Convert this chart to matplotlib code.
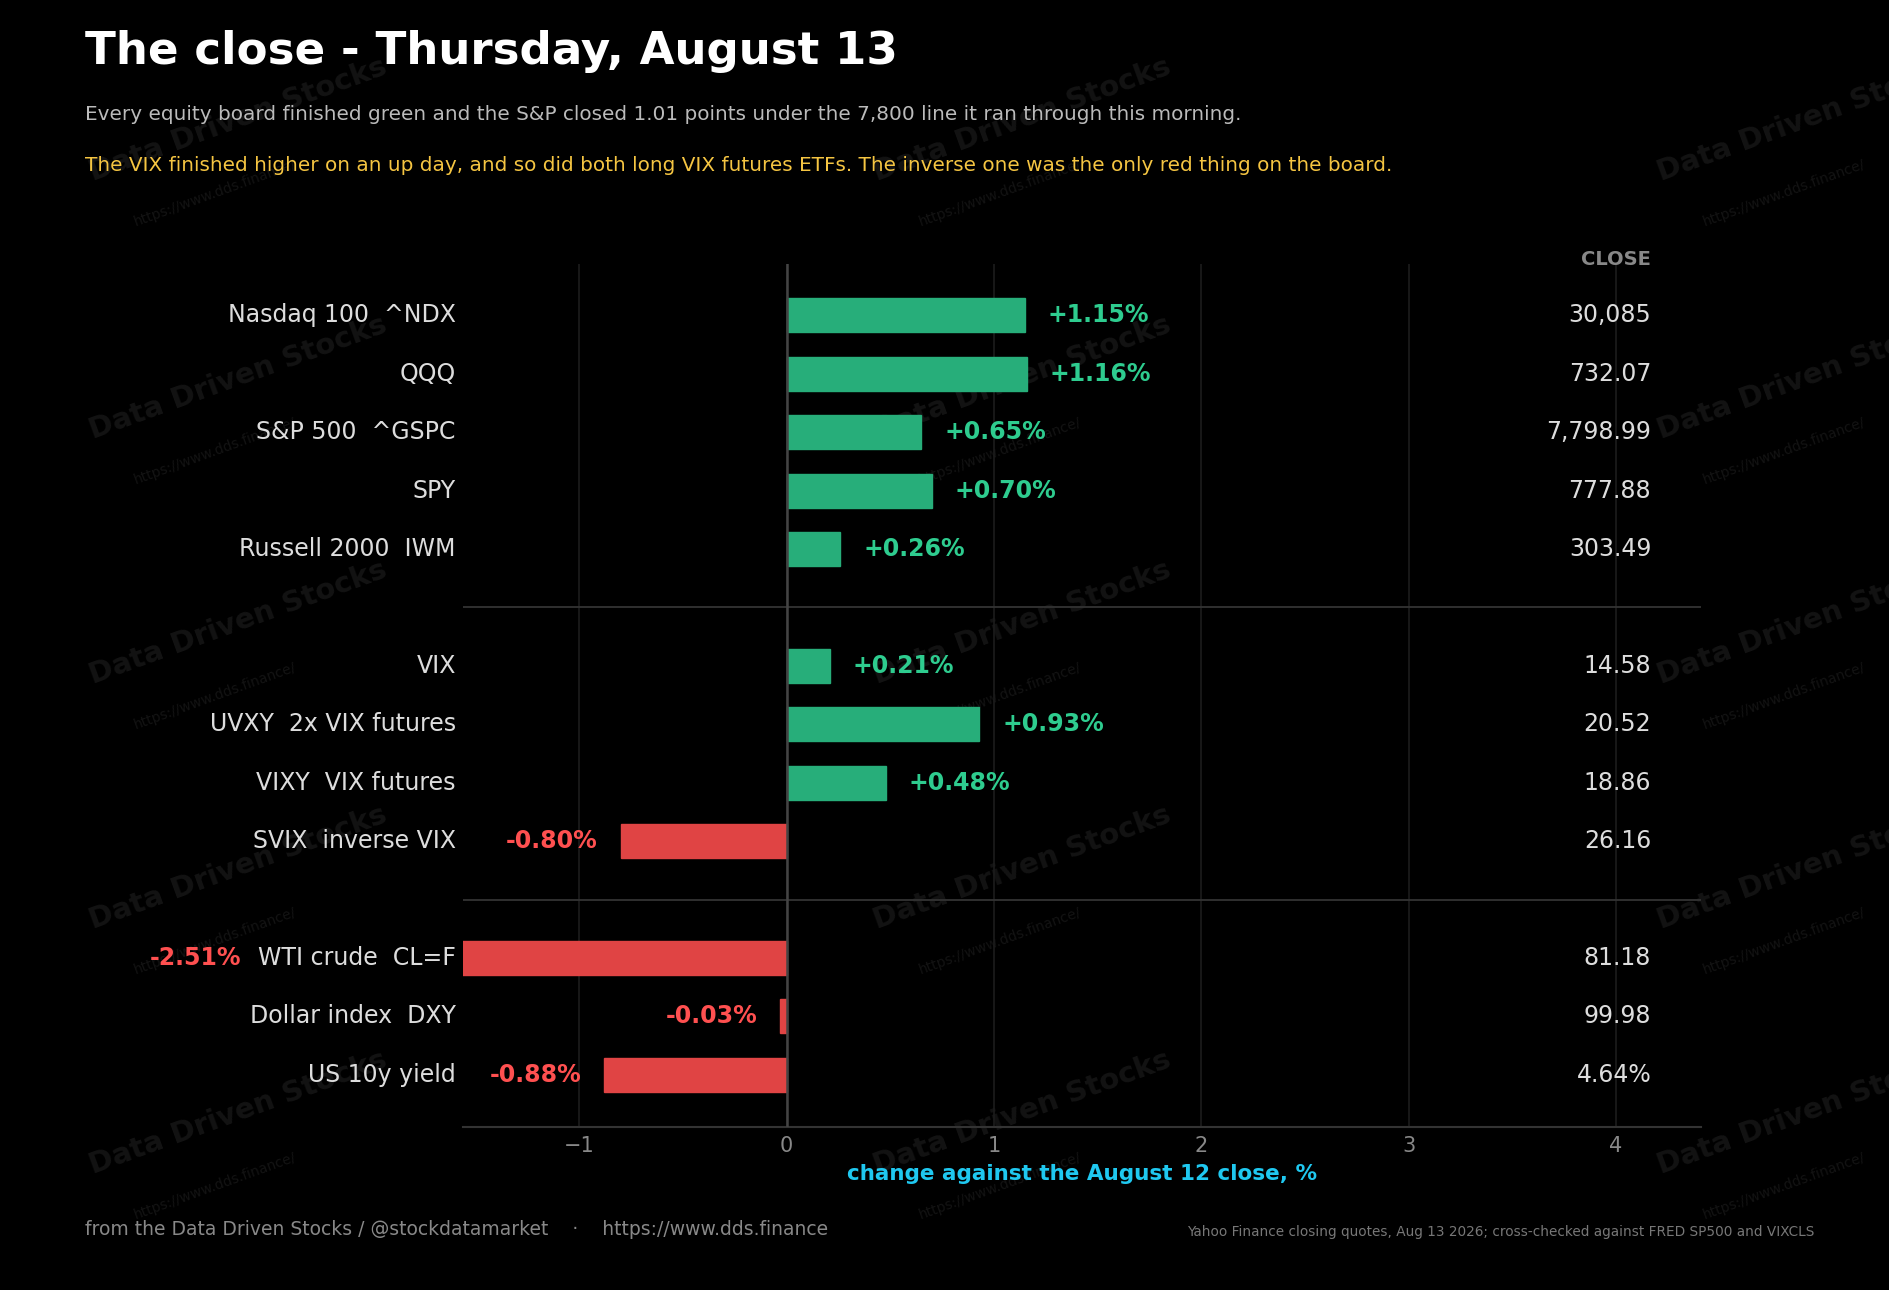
"""
The close - one-day board of equity, VIX and macro moves, drawn as a bar chart.
"""

import matplotlib
matplotlib.use("Agg")
import matplotlib.pyplot as plt

# ── Board data ────────────────────────────────────────────────────────────────
LABELS = ["Nasdaq 100  ^NDX", "QQQ", "S&P 500  ^GSPC", "SPY", "Russell 2000  IWM",
          "VIX", "UVXY  2x VIX futures", "VIXY  VIX futures", "SVIX  inverse VIX",
          "WTI crude  CL=F", "Dollar index  DXY", "US 10y yield"]
CHANGES = [1.15, 1.16, 0.65, 0.70, 0.26, 0.21, 0.93, 0.48, -0.80, -2.51, -0.03, -0.88]
CLOSES = ["30,085", "732.07", "7,798.99", "777.88", "303.49",
          "14.58", "20.52", "18.86", "26.16", "81.18", "99.98", "4.64%"]
ROWS = [0, 1, 2, 3, 4, 6, 7, 8, 9, 11, 12, 13]   # gaps mark the three groups
SEPARATORS = [5, 10]

# ── Chart ─────────────────────────────────────────────────────────────────────
C = dict(
    bg="#000000", pos="#27AE7A", pos_txt="#2ECC8F", neg="#E04444", neg_txt="#FF5050",
    text="#DDDDDD", muted="#888888", grid="#1C1C1C", zero="#444444",
    sep="#333333", axis="#1FC8F0", note="#F5C542", mark="#131313",
)
XMIN, XMAX = -1.56, 4.41

fig = plt.figure(figsize=(18.9, 12.9), dpi=100, facecolor=C["bg"])
ax = fig.add_axes([0.245, 0.126, 0.655, 0.669], facecolor="none", zorder=2)

# Watermark tiles (behind the axes)
for wx in [0.045, 0.46, 0.875]:
    for wy in [0.86, 0.66, 0.47, 0.28, 0.09]:
        fig.text(wx, wy, "Data Driven Stocks", fontsize=21, fontweight="bold",
                 color=C["mark"], rotation=20, zorder=0)
        fig.text(wx + 0.025, wy - 0.035, "https://www.dds.finance/", fontsize=10,
                 color=C["mark"], rotation=20, zorder=0)

for r, v in zip(ROWS, CHANGES):
    col = C["pos"] if v >= 0 else C["neg"]
    ax.barh(r, v, height=0.58, color=col, edgecolor=col, zorder=3)

for r, v, lab, cl in zip(ROWS, CHANGES, LABELS, CLOSES):
    txt = f"{v:+.2f}%"
    if v >= 0:
        ax.text(v + 0.11, r, txt, color=C["pos_txt"], fontsize=17, fontweight="bold",
                va="center", ha="left", zorder=5)
    elif v > XMIN:
        ax.text(v - 0.11, r, txt, color=C["neg_txt"], fontsize=17, fontweight="bold",
                va="center", ha="right", zorder=5)
    else:
        ax.text(-0.179, r, txt, transform=ax.get_yaxis_transform(), color=C["neg_txt"],
                fontsize=17, fontweight="bold", va="center", ha="right", zorder=5)
    ax.text(XMIN - 0.035, r, lab, color=C["text"], fontsize=17, va="center", ha="right")
    ax.text(4.17, r, cl, color=C["text"], fontsize=17, va="center", ha="right")

ax.text(4.17, -0.95, "CLOSE", color=C["muted"], fontsize=14, fontweight="bold",
        ha="right", va="center")

for s in SEPARATORS:
    ax.axhline(s, color=C["sep"], lw=1.3, zorder=2)
for x in range(-1, 5):
    ax.axvline(x, color=C["grid"], lw=1.2, zorder=1)
ax.axvline(0, color=C["zero"], lw=1.8, zorder=4)

ax.set_xlim(XMIN, XMAX)
ax.set_ylim(13.9, -0.87)
ax.set_yticks([])
ax.set_xticks(range(-1, 5))
ax.tick_params(axis="x", colors=C["muted"], labelsize=15, length=0, pad=6)
for name, sp in ax.spines.items():
    sp.set_visible(name == "bottom")
ax.spines["bottom"].set_color(C["sep"])
ax.spines["bottom"].set_linewidth(1.5)
ax.set_xlabel("change against the August 12 close, %", color=C["axis"], fontsize=15.5,
              fontweight="bold", labelpad=6)

# Titles and footer
fig.text(0.045, 0.96, "The close - Thursday, August 13", color="white", fontsize=32.5,
         fontweight="bold", va="center")
fig.text(0.045, 0.911, "Every equity board finished green and the S&P closed 1.01 points "
         "under the 7,800 line it ran through this morning.", color="#BBBBBB", fontsize=14.4,
         va="center")
fig.text(0.045, 0.872, "The VIX finished higher on an up day, and so did both long VIX "
         "futures ETFs. The inverse one was the only red thing on the board.",
         color=C["note"], fontsize=14.4, va="center")
fig.text(0.045, 0.047, "from the Data Driven Stocks / @stockdatamarket    \u00b7    "
         "https://www.dds.finance", color="#888888", fontsize=13.5, va="center")
fig.text(0.96, 0.045, "Yahoo Finance closing quotes, Aug 13 2026; cross-checked against "
         "FRED SP500 and VIXCLS", color="#777777", fontsize=9.8, va="center", ha="right")

fig.savefig("out.png", dpi=100, facecolor=C["bg"])
plt.close(fig)
